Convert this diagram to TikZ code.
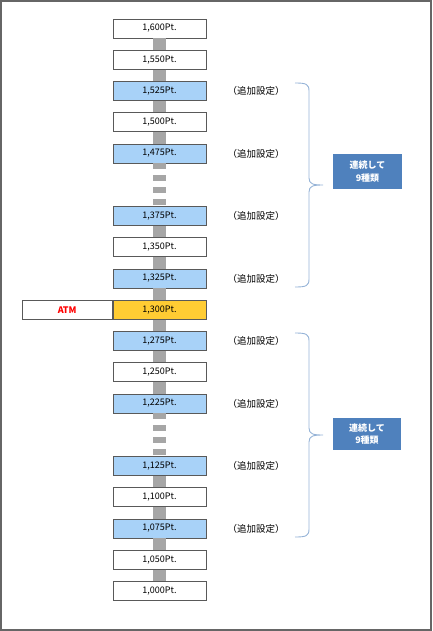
\documentclass[tikz,border=0pt]{standalone}
\usepackage{fontspec}
\setmainfont{Noto Sans CJK JP}
\usepackage{xcolor}
\usetikzlibrary{positioning}
\definecolor{ptblue}{RGB}{168,210,248}
\definecolor{ptyellow}{RGB}{255,204,51}
\definecolor{notefill}{RGB}{79,129,189}
\definecolor{bracecol}{RGB}{149,179,215}
\definecolor{boxline}{RGB}{89,89,89}
\tikzset{
  pts/.style={draw=boxline,line width=0.8pt,fill=white,minimum width=93pt,
              minimum height=19pt,inner sep=0pt,font=\fontsize{9}{10}\selectfont},
  addpt/.style={pts,fill=ptblue},
  atmpt/.style={pts,fill=ptyellow},
  bar/.style={draw=black!35,line width=13pt},
  addtxt/.style={inner sep=0pt,font=\fontsize{9.5}{10}\selectfont},
  note/.style={fill=notefill,text=white,align=center,inner sep=0pt,
               font=\fontsize{9}{12.5}\selectfont\bfseries},
  brc/.style={draw=bracecol,line width=0.9pt},
}

\begin{document}
\begin{tikzpicture}[x=1pt,y=-1pt]
  \useasboundingbox (0,0) rectangle (432,631);
  % --- frame ---
  \draw[black!60,line width=2pt] (1,1) rectangle (430.5,629.5);
  % --- point ladder ---
  \def\dy{31.25}
  \foreach \r/\k/\m/\s in {0/1/600/pts,1/1/550/pts,2/1/525/addpt,3/1/500/pts,
      4/1/475/addpt,6/1/375/addpt,7/1/350/pts,8/1/325/addpt,9/1/300/atmpt,
      10/1/275/addpt,11/1/250/pts,12/1/225/addpt,14/1/125/addpt,15/1/100/pts,
      16/1/075/addpt,17/1/050/pts,18/1/000/pts}
    \node[\s] (p\k\m) at (159.5,28.5+\dy*\r) {\k,\m Pt.};
  % gray bars between the boxes
  \foreach \a/\b in {1600/1550,1550/1525,1525/1500,1500/1475,1375/1350,
      1350/1325,1325/1300,1300/1275,1275/1250,1250/1225,1125/1100,
      1100/1075,1075/1050,1050/1000}
    \draw[bar] (p\a.south) -- (p\b.north);
  \foreach \a/\b in {1475/1375,1225/1125}
    \draw[bar,dash pattern=on 5.5pt off 6.5pt] (p\a.south) -- (p\b.north);
  % --- ATM ---
  \node[pts,minimum width=90pt,anchor=east,text=red,font=\fontsize{9}{10}\selectfont\bfseries]
       (atm) at (p1300.west) {ATM};
  % --- added settings ---
  \foreach \n in {1525,1475,1375,1325,1275,1225,1125,1075}
    \node[addtxt,right=21pt of p\n] (t\n) {（追加設定）};
  % --- braces ---
  \foreach \t/\c/\b in {83/185/287,333/435/537}
    \draw[brc] (295,\t) .. controls (306,\t) and (309,\t+1) .. (309,\t+8)
      -- (309,\c-7) .. controls (309,\c-1) and (313,\c) .. (323,\c)
      .. controls (313,\c) and (309,\c+1) .. (309,\c+7)
      -- (309,\b-8) .. controls (309,\b-1) and (306,\b) .. (295,\b);
  % --- notes ---
  \node[note,minimum width=69pt,minimum height=35pt] (upper) at (367.5,171.5) {連続して\\9種類};
  \node[note,minimum width=68pt,minimum height=32pt] (lower) at (367,434) {連続して\\9種類};
\end{tikzpicture}
\end{document}
